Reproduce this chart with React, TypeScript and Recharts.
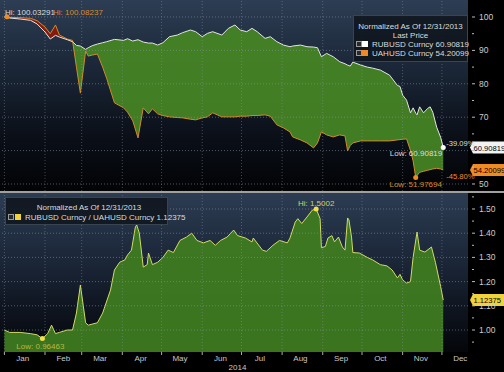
import React from 'react';
import { ComposedChart, Area, Line, XAxis, YAxis, ReferenceLine, ReferenceDot } from 'recharts';

// ---------- data (day index from 31 Dec 2013) ----------
const topDays = [0, 2, 4, 12, 20, 25, 31, 35, 39, 42, 48, 52, 55, 58, 62, 64, 67, 71, 75, 78, 84, 91, 94, 98, 102, 106, 110, 113, 117, 121, 126, 132, 136, 142, 146, 151, 155, 159, 166, 171, 176, 180, 185, 189, 193, 199, 203, 208, 213, 218, 220, 226, 231, 236, 239, 242, 246, 251, 256, 260, 262, 264, 266, 272, 277, 281, 287, 294, 300, 302, 304, 307, 310, 312, 314, 315, 317, 320, 323, 325, 327, 330, 333, 335];
const rubValues = [100, 100.03291, 99.7, 99.4, 99.0, 97.9, 95.5, 93.4, 94.5, 94.0, 93.2, 92.6, 91.5, 91.3, 90.3, 90.8, 91.4, 91.9, 92.3, 92.6, 93.3, 93.0, 93.5, 92.8, 93.2, 92.5, 92.2, 92.2, 91.6, 92.3, 94.1, 94.6, 95.3, 96.1, 95.6, 94.1, 95.1, 95.6, 94.6, 96.6, 97.6, 96.1, 95.6, 96.6, 95.6, 93.6, 94.1, 92.6, 91.6, 91.1, 91.3, 91.6, 91.1, 91.0, 90.8, 88.1, 89.1, 88.1, 86.6, 86.0, 85.6, 85.3, 86.5, 85.6, 85.0, 84.7, 84.1, 82.6, 79.5, 79.2, 76.6, 75.1, 71.3, 72.8, 71.2, 70.7, 73.1, 71.3, 72.6, 73.1, 71.5, 67.0, 64.0, 60.90819];
const uahValues = [100, 100.08237, 99.9, 99.8, 99.6, 98.9, 97.0, 95.0, 97.6, 94.6, 93.4, 93.0, 85.0, 77.2, 89.8, 88.3, 88.6, 88.9, 85.0, 81.7, 74.3, 72.8, 71.5, 68.9, 63.8, 72.8, 71.0, 72.5, 71.0, 70.5, 70.1, 69.9, 69.8, 69.4, 69.2, 69.8, 70.1, 71.3, 70.1, 70.1, 70.1, 70.3, 70.3, 70.5, 70.5, 70.7, 70.3, 67.7, 66.8, 65.6, 64.1, 63.2, 62.3, 60.8, 62.3, 65.6, 64.7, 64.1, 64.7, 64.4, 59.9, 61.5, 62.3, 62.9, 62.9, 62.9, 62.9, 62.9, 63.2, 63.3, 63.4, 63.5, 60.0, 56.9, 51.97694, 52.5, 53.5, 53.8, 54.1, 54.3, 54.5, 54.7, 54.5, 54.20099];

const ratioDays = [0, 4, 12, 20, 25, 29, 33, 36, 39, 42, 48, 52, 55, 58, 62, 64, 71, 75, 81, 84, 88, 92, 94, 97, 100, 101, 103, 106, 109, 110, 113, 117, 121, 125, 129, 134, 139, 143, 147, 152, 157, 161, 165, 170, 175, 178, 184, 189, 190, 197, 200, 205, 210, 216, 218, 222, 224, 227, 231, 235, 238, 241, 242, 245, 247, 250, 252, 255, 258, 260, 262, 263, 265, 266, 271, 277, 281, 287, 292, 296, 300, 302, 304, 307, 310, 312, 315, 317, 321, 326, 329, 333, 335];
const ratioValues = [1.0, 0.99, 0.99, 0.985, 0.98, 0.96463, 0.985, 1.02, 0.985, 0.99, 1.0, 1.0, 1.07, 1.186, 1.03, 1.02, 1.03, 1.07, 1.165, 1.248, 1.28, 1.29, 1.31, 1.33, 1.426, 1.434, 1.4, 1.26, 1.27, 1.318, 1.27, 1.28, 1.3, 1.33, 1.32, 1.37, 1.384, 1.4, 1.37, 1.36, 1.37, 1.35, 1.37, 1.384, 1.413, 1.39, 1.38, 1.364, 1.38, 1.33, 1.325, 1.35, 1.37, 1.36, 1.38, 1.446, 1.46, 1.44, 1.467, 1.495, 1.5002, 1.46, 1.34, 1.345, 1.38, 1.39, 1.364, 1.384, 1.343, 1.33, 1.463, 1.455, 1.384, 1.32, 1.318, 1.3, 1.29, 1.27, 1.265, 1.248, 1.215, 1.23, 1.207, 1.194, 1.2, 1.3, 1.405, 1.33, 1.322, 1.343, 1.28, 1.18, 1.12375];

const monthLabels = ['Jan', 'Feb', 'Mar', 'Apr', 'May', 'Jun', 'Jul', 'Aug', 'Sep', 'Oct', 'Nov', 'Dec'];
const monthStartDays = [0, 31, 59, 90, 120, 151, 181, 212, 243, 273, 304, 334];
const monthMidDays = [14, 45, 73, 104, 134, 165, 195, 226, 257, 287, 318, 348];
const yearLabel = '2014';
const topTicks = [50, 55, 60, 65, 70, 75, 80, 85, 90, 95, 100];
const topLabelledTicks = [50, 70, 80, 90, 100]; // 60 is hidden under the last-price box
const topGridValues = [50, 60, 70, 80, 90, 100];
const bottomTicks = [0.95, 1.0, 1.05, 1.1, 1.15, 1.2, 1.25, 1.3, 1.35, 1.4, 1.45, 1.5, 1.55];
const bottomGridValues = [1.0, 1.1, 1.2, 1.3, 1.4, 1.5];

const rubLast = 60.90819;
const uahLast = 54.20099;
const ratioLast = 1.12375;
const rubHi = '100.03291';
const uahHi = 100.08237;
const uahLow = 51.97694;
const ratioHi = 1.5002;
const ratioLow = 0.96463;
const rubChange = '-39.09%';
const uahChange = '-45.80%';

// ---------- tables ----------
const topData = topDays.map((d, i) => {
  const r = rubValues[i];
  const u = uahValues[i];
  return {
    d,
    rub: r,
    uah: u,
    green: r >= u ? [u, r] : [r, r],
    red: u > r ? [r, u] : [r, r],
  };
});
const ratioData = ratioDays.map((d, i) => ({ d, r: ratioValues[i] }));

const FONT = "'Liberation Sans', Arial, sans-serif";
const X_DOMAIN: [number, number] = [-3.36, 353.9];
const GRID = '#8796a6';

const TopTick = (props: any) => {
  const { x, y, payload } = props;
  const v = payload.value;
  const major = v % 10 === 0;
  const labelled = topLabelledTicks.indexOf(v) >= 0;
  return (
    <g>
      <line x1={x + 4} x2={x + (major ? 7 : 6)} y1={y} y2={y} stroke="#bbbbbb" strokeWidth={1} />
      {labelled && (
        <text x={x + 11} y={y + 3} fill="#cccccc" fontSize={8.5} fontFamily={FONT}>
          {v}
        </text>
      )}
    </g>
  );
};

const BottomYTick = (props: any) => {
  const { x, y, payload } = props;
  const v = payload.value;
  const major = Math.round(v * 100) % 10 === 0;
  return (
    <g>
      <line x1={x + 4} x2={x + (major ? 7 : 6)} y1={y} y2={y} stroke="#bbbbbb" strokeWidth={1} />
      {major && (
        <text x={x + 11} y={y + 3} fill="#cccccc" fontSize={8.5} fontFamily={FONT}>
          {v.toFixed(2)}
        </text>
      )}
    </g>
  );
};

const MonthTick = (props: any) => {
  const { x, y, payload } = props;
  const v = payload.value;
  const si = monthStartDays.indexOf(v);
  if (si >= 0) {
    return (
      <g>
        <line x1={x} x2={x} y1={y} y2={y + 3} stroke="#aaaaaa" strokeWidth={1} />
        {v === 181 && (
          <text x={x - 4} y={y + 18} fill="#c8c8c8" fontSize={8} fontFamily={FONT} textAnchor="middle">
            {yearLabel}
          </text>
        )}
      </g>
    );
  }
  const mi = monthMidDays.indexOf(v);
  return (
    <text x={x} y={y + 9} fill="#c8c8c8" fontSize={8} fontFamily={FONT} textAnchor="middle">
      {monthLabels[mi]}
    </text>
  );
};

const center = (vb: any) => ({ cx: vb.x + vb.width / 2, cy: vb.y + vb.height / 2 });

const valueBox = (text: string, bg: string) => (props: any) => {
  const vb = props.viewBox;
  const x0 = vb.x + vb.width + 2;
  const y = vb.y;
  return (
    <g>
      <polygon
        points={`${x0},${y} ${x0 + 3},${y - 6} ${504},${y - 6} ${504},${y + 6} ${x0 + 3},${y + 6}`}
        fill={bg}
      />
      <text x={x0 + 3.5} y={y + 3} fill="#000" fontSize={7.6} fontFamily={FONT}>
        {text}
      </text>
    </g>
  );
};

const hiLabel = (props: any) => {
  const { cx, cy } = center(props.viewBox);
  return (
    <g>
      <text x={cx - 2} y={cy - 2} fill="#dddddd" fontSize={8} fontFamily={FONT}>
        {'Hi: ' + rubHi}
      </text>
      <text x={cx + 46} y={cy - 2} fill="#d88a30" fontSize={8} fontFamily={FONT}>
        {'Hi: ' + uahHi.toFixed(5)}
      </text>
    </g>
  );
};

const rubEndLabel = (props: any) => {
  const { cx, cy } = center(props.viewBox);
  return (
    <g>
      <text x={cx - 1} y={cy + 8} fill="#dddddd" fontSize={8} fontFamily={FONT} textAnchor="end">
        {'Low: ' + rubLast.toFixed(5)}
      </text>
      <text x={cx + 3} y={cy - 2} fill="#dddddd" fontSize={7.6} fontFamily={FONT}>
        {rubChange}
      </text>
    </g>
  );
};

const uahLowLabel = (props: any) => {
  const { cx, cy } = center(props.viewBox);
  return (
    <text x={cx} y={cy + 10} fill="#d88a30" fontSize={8} fontFamily={FONT} textAnchor="middle">
      {'Low: ' + uahLow.toFixed(5)}
    </text>
  );
};

const uahEndLabel = (props: any) => {
  const { cx, cy } = center(props.viewBox);
  return (
    <text x={cx + 3} y={cy + 9} fill="#e8902c" fontSize={7.6} fontFamily={FONT}>
      {uahChange}
    </text>
  );
};

const ratioHiLabel = (props: any) => {
  const { cx, cy } = center(props.viewBox);
  return (
    <text x={cx} y={cy - 3} fill="#d6cf6a" fontSize={8} fontFamily={FONT} textAnchor="middle">
      {'Hi: ' + ratioHi.toFixed(4)}
    </text>
  );
};

const ratioLowLabel = (props: any) => {
  const { cx, cy } = center(props.viewBox);
  return (
    <text x={cx - 2} y={cy + 10} fill="#b8b840" fontSize={8} fontFamily={FONT} textAnchor="middle">
      {'Low: ' + ratioLow.toFixed(5)}
    </text>
  );
};

const txt: React.CSSProperties = {
  position: 'absolute',
  fontFamily: FONT,
  fontSize: 8,
  lineHeight: '9px',
  color: '#dcdcdc',
  whiteSpace: 'nowrap',
};

const Icon = ({ left, top }: { left: number; top: number }) => (
  <div
    style={{
      position: 'absolute',
      left,
      top,
      width: 4,
      height: 4,
      border: '1px solid #9a9a9a',
      background: '#2a2a2a',
    }}
  />
);

export default function App() {
  return (
    <div
      style={{
        position: 'absolute',
        left: 0,
        top: 0,
        width: 504,
        height: 372,
        background: '#000',
        overflow: 'hidden',
      }}
    >
      <div
        style={{
          position: 'absolute',
          left: 0,
          top: 0,
          width: 468,
          height: 191,
          background: 'linear-gradient(to bottom, #2d3d53 0%, #1b2738 35%, #0b1019 70%, #020305 100%)',
        }}
      />
      <div
        style={{
          position: 'absolute',
          left: 0,
          top: 193,
          width: 468,
          height: 159,
          background: 'linear-gradient(to bottom, #2c3c52 0%, #1a2536 45%, #0a0e16 85%, #04060a 100%)',
        }}
      />
      <div style={{ position: 'absolute', left: 0, top: 191, width: 504, height: 2, background: '#a0a0a0' }} />

      <div style={{ position: 'absolute', left: 0, top: 0 }}>
        <ComposedChart width={504} height={191} data={topData} margin={{ top: 0, right: 0, bottom: 0, left: 0 }}>
          <XAxis type="number" dataKey="d" domain={X_DOMAIN} allowDataOverflow hide />
          <YAxis
            orientation="right"
            width={36}
            domain={[47.9, 105.09]}
            allowDataOverflow
            ticks={topTicks}
            interval={0}
            tick={TopTick}
            tickLine={false}
            axisLine={false}
            tickSize={0}
            tickMargin={0}
          />
          <Area type="linear" dataKey="green" fill="#468524" fillOpacity={0.93} stroke="none" activeDot={false} isAnimationActive={false} />
          <Area type="linear" dataKey="red" fill="#8c190a" fillOpacity={0.95} stroke="none" activeDot={false} isAnimationActive={false} />
          {topGridValues.map((v) => (
            <ReferenceLine key={'ty' + v} y={v} stroke={GRID} strokeOpacity={0.55} strokeDasharray="1 2" />
          ))}
          {monthStartDays.map((d) => (
            <ReferenceLine key={'tx' + d} x={d} stroke={GRID} strokeOpacity={0.45} strokeDasharray="1 2" />
          ))}
          <Line type="linear" dataKey="uah" stroke="#d08a2e" strokeWidth={1} dot={false} activeDot={false} isAnimationActive={false} />
          <Line type="linear" dataKey="rub" stroke="#e4e4e4" strokeWidth={1} dot={false} activeDot={false} isAnimationActive={false} />
          <ReferenceLine y={rubLast} strokeOpacity={0} label={valueBox(rubLast.toFixed(5), '#f2f2f2')} />
          <ReferenceLine y={uahLast} strokeOpacity={0} label={valueBox(uahLast.toFixed(5), '#f08a24')} />
          <ReferenceDot x={2} y={uahHi} r={2.5} fill="#f08a24" stroke="none" label={hiLabel} />
          <ReferenceDot x={335} y={rubLast} r={2.5} fill="#ffffff" stroke="none" label={rubEndLabel} />
          <ReferenceDot x={314} y={uahLow} r={2.5} fill="#f08a24" stroke="none" label={uahLowLabel} />
          <ReferenceDot x={335} y={uahLast} r={1} fill="none" stroke="none" label={uahEndLabel} />
        </ComposedChart>
      </div>

      <div style={{ position: 'absolute', left: 0, top: 193 }}>
        <ComposedChart width={504} height={179} data={ratioData} margin={{ top: 0, right: 0, bottom: 0, left: 0 }}>
          <XAxis
            type="number"
            dataKey="d"
            domain={X_DOMAIN}
            allowDataOverflow
            ticks={[...monthStartDays, ...monthMidDays]}
            interval={0}
            tick={MonthTick}
            tickLine={false}
            axisLine={false}
            tickSize={0}
            tickMargin={0}
            height={20}
          />
          <YAxis
            orientation="right"
            width={36}
            domain={[0.9091, 1.5661]}
            allowDataOverflow
            ticks={bottomTicks}
            interval={0}
            tick={BottomYTick}
            tickLine={false}
            axisLine={false}
            tickSize={0}
            tickMargin={0}
          />
          <Area
            type="linear"
            dataKey="r"
            baseValue="dataMin"
            fill="#3f7d1f"
            fillOpacity={0.93}
            stroke="#d2da6a"
            strokeWidth={1}
            activeDot={false}
            isAnimationActive={false}
          />
          {bottomGridValues.map((v) => (
            <ReferenceLine key={'by' + v} y={v} stroke={GRID} strokeOpacity={0.55} strokeDasharray="1 2" />
          ))}
          {monthStartDays.map((d) => (
            <ReferenceLine key={'bx' + d} x={d} stroke={GRID} strokeOpacity={0.45} strokeDasharray="1 2" />
          ))}
          <ReferenceLine y={ratioLast} strokeOpacity={0} label={valueBox(ratioLast.toFixed(5), '#f0d23c')} />
          <ReferenceDot x={238} y={ratioHi} r={2.5} fill="#f4e04a" stroke="none" label={ratioHiLabel} />
          <ReferenceDot x={29} y={ratioLow} r={2.5} fill="#f4e04a" stroke="none" label={ratioLowLabel} />
        </ComposedChart>
      </div>

      {/* top legend */}
      <div
        style={{
          position: 'absolute',
          left: 353,
          top: 15,
          width: 115,
          height: 47,
          background: 'rgba(16,22,30,0.9)',
          border: '1px solid #3a4450',
          boxSizing: 'border-box',
        }}
      />
      <div style={{ ...txt, left: 353, width: 115, top: 21.5, textAlign: 'center' }}>Normalized As Of 12/31/2013</div>
      <div style={{ ...txt, left: 353, width: 115, top: 30.5, textAlign: 'center' }}>Last Price</div>
      <Icon left={356} top={41} />
      <div style={{ position: 'absolute', left: 362, top: 40.5, width: 6, height: 6, background: '#ffffff' }} />
      <div style={{ ...txt, left: 372, top: 39.5 }}>RUBUSD Curncy 60.90819</div>
      <Icon left={356} top={50} />
      <div style={{ position: 'absolute', left: 362, top: 49.5, width: 6, height: 6, background: '#f08a24' }} />
      <div style={{ ...txt, left: 372, top: 48.5 }}>UAHUSD Curncy 54.20099</div>

      {/* bottom legend */}
      <div
        style={{
          position: 'absolute',
          left: 5,
          top: 197,
          width: 163,
          height: 28,
          background: 'rgba(16,22,30,0.9)',
          border: '1px solid #3a4450',
          boxSizing: 'border-box',
        }}
      />
      <div style={{ ...txt, left: 5, width: 168, top: 202.5, textAlign: 'center' }}>Normalized As Of 12/31/2013</div>
      <Icon left={8} top={214} />
      <div style={{ position: 'absolute', left: 15, top: 213.5, width: 6, height: 6, background: '#f0d23c' }} />
      <div style={{ ...txt, left: 25, top: 212.5 }}>RUBUSD Curncy / UAHUSD Curncy 1.12375</div>
    </div>
  );
}
